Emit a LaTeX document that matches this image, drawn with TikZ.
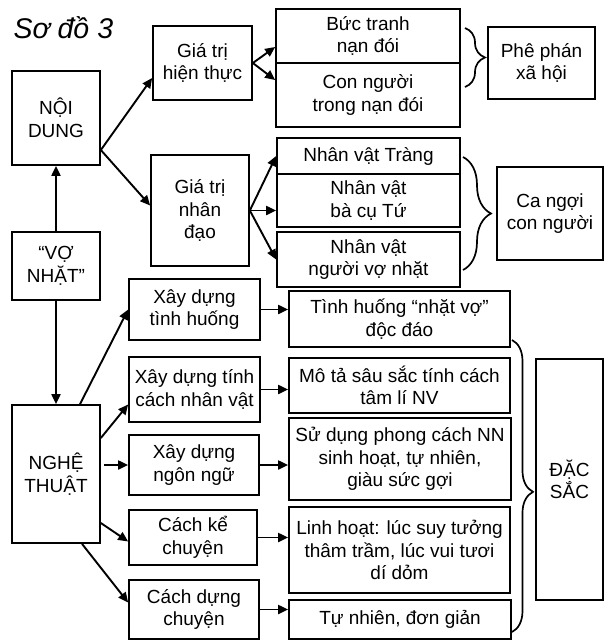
\documentclass[tikz,border=0pt]{standalone}
\usepackage{fontspec}
\setmainfont{Liberation Sans}
\usepackage{tikz}
\usetikzlibrary{arrows.meta,decorations.pathreplacing}

\tikzset{
  box/.style={draw,line width=1.7pt,inner sep=0pt,align=center,
    font=\fontsize{19}{22.5}\selectfont},
  arr/.style={line width=1.9pt,-{Triangle[length=10pt,width=9pt]}},
  brc/.style={line width=1.7pt,decorate,decoration={brace,amplitude=#1}}
}

\begin{document}
\begin{tikzpicture}[x=1pt,y=-1pt]
  \useasboundingbox (0,0) rectangle (612,641);
  % title
  \node[anchor=base west,font=\fontsize{28.5}{30}\selectfont\itshape] (title) at (10,38) {Sơ đồ 3};

  % left column
  \node[box,minimum width=88,minimum height=94] (noidung) at (56,118) {NỘI\\DUNG};
  \node[box,minimum width=88,minimum height=68] (vonhat) at (56,266) {“VỢ\\NHẶT”};
  \node[box,minimum width=88,minimum height=138] (nghethuat) at (56,474) {NGHỆ\\THUẬT};
  \draw[arr] (vonhat.north) -- (noidung.south);
  \draw[arr] (vonhat.south) -- (nghethuat.north);

  % noi dung: gia tri hien thuc, gia tri nhan dao
  \node[box,minimum width=99,minimum height=74] (hienthuc) at (202.5,63) {Giá trị\\hiện thực};
  \node[box,minimum width=98,minimum height=111] (nhandao) at (200,210.5) {Giá trị\\nhân\\đạo};
  \draw[arr] ([yshift=-32pt]noidung.east) -- ([yshift=-15pt]hienthuc.west);
  \draw[arr] ([yshift=-32pt]noidung.east) -- ([yshift=5pt]nhandao.west);

  \node[box,minimum width=184,minimum height=54] (buctranh) at (368,36) {Bức tranh\\nạn đói};
  \node[box,minimum width=184,minimum height=64] (connguoi) at (368,95) {Con người\\trong nạn đói};
  \node[box,minimum width=107,minimum height=72] (phephan) at (541.5,63) {Phê phán\\xã hội};
  \draw[arr] (hienthuc.east) -- ([yshift=-11pt]buctranh.west);
  \draw[arr] (hienthuc.east) -- ([yshift=15pt]connguoi.west);
  \draw[brc=20pt] (465,28) -- (465,87);

  \node[box,minimum width=183,minimum height=36] (trang) at (368.5,156) {Nhân vật Tràng};
  \node[box,minimum width=183,minimum height=53] (bacu) at (368.5,200.5) {Nhân vật\\bà cụ Tứ};
  \node[box,minimum width=183,minimum height=55] (vonhat2) at (368.5,259.5) {Nhân vật\\người vợ nhặt};
  \node[box,minimum width=106,minimum height=93] (cangoi) at (550,213.5) {Ca ngợi\\con người};
  \draw[arr] (nhandao.east) -- (trang.west);
  \draw[arr] (nhandao.east) -- (nhandao.east -| bacu.west);
  \draw[arr] (nhandao.east) -- (vonhat2.west);
  \draw[brc=28pt] (463,157) -- (463,270);

  % nghe thuat
  \node[box,minimum width=131,minimum height=61] (tinhhuong) at (194.5,309.5) {Xây dựng\\tình huống};
  \node[box,minimum width=131,minimum height=65] (tinhcach) at (194.5,389.5) {Xây dựng tính\\cách nhân vật};
  \node[box,minimum width=130,minimum height=60] (ngonngu) at (194,465) {Xây dựng\\ngôn ngữ};
  \node[box,minimum width=128,minimum height=55] (kechuyen) at (193,537.5) {Cách kể\\chuyện};
  \node[box,minimum width=130,minimum height=59] (dungchuyen) at (194,609.5) {Cách dựng\\chuyện};
  \draw[arr] ([xshift=24pt]nghethuat.north) -- (tinhhuong.west);
  \draw[arr] ([yshift=36pt]nghethuat.east) -- ([yshift=-15pt]tinhcach.west);
  \draw[arr,shorten <=3pt] (nghethuat.east |- ngonngu.west) -- (ngonngu.west);
  \draw[arr] ([yshift=-49pt]nghethuat.east) -- ([yshift=-4pt]kechuyen.west);
  \draw[arr] ([xshift=26pt]nghethuat.south) -- ([yshift=7pt]dungchuyen.west);

  \node[box,minimum width=221,minimum height=56] (nhatvo) at (399.5,319) {Tình huống “nhặt vợ”\\độc đáo};
  \node[box,minimum width=221,minimum height=55] (mota) at (399.5,385.5) {Mô tả sâu sắc tính cách\\tâm lí NV};
  \node[box,minimum width=222,minimum height=82] (sudung) at (400,459) {Sử dụng phong cách NN\\sinh hoạt, tự nhiên,\\giàu sức gợi};
  \node[box,minimum width=221,minimum height=86] (linhhoat) at (399.5,550) {Linh hoạt: lúc suy tưởng\\thâm trầm, lúc vui tươi\\dí dỏm};
  \node[box,minimum width=222,minimum height=39] (tunhien) at (400,619.5) {Tự nhiên, đơn giản};
  \draw[arr] (tinhhuong.east) -- (tinhhuong.east -| nhatvo.west);
  \draw[arr] (tinhcach.east) -- (tinhcach.east -| mota.west);
  \draw[arr] (ngonngu.east) -- (ngonngu.east -| sudung.west);
  \draw[arr] (kechuyen.east) -- (kechuyen.east -| linhhoat.west);
  \draw[arr] (dungchuyen.east) -- (dungchuyen.east -| tunhien.west);

  \node[box,minimum width=67,minimum height=241] (dacsac) at (569.5,479.5) {ĐẶC\\SẮC};
  \draw[brc=21pt,decoration={aspect=0.52}] (512,340) -- (512,632);
\end{tikzpicture}
\end{document}
